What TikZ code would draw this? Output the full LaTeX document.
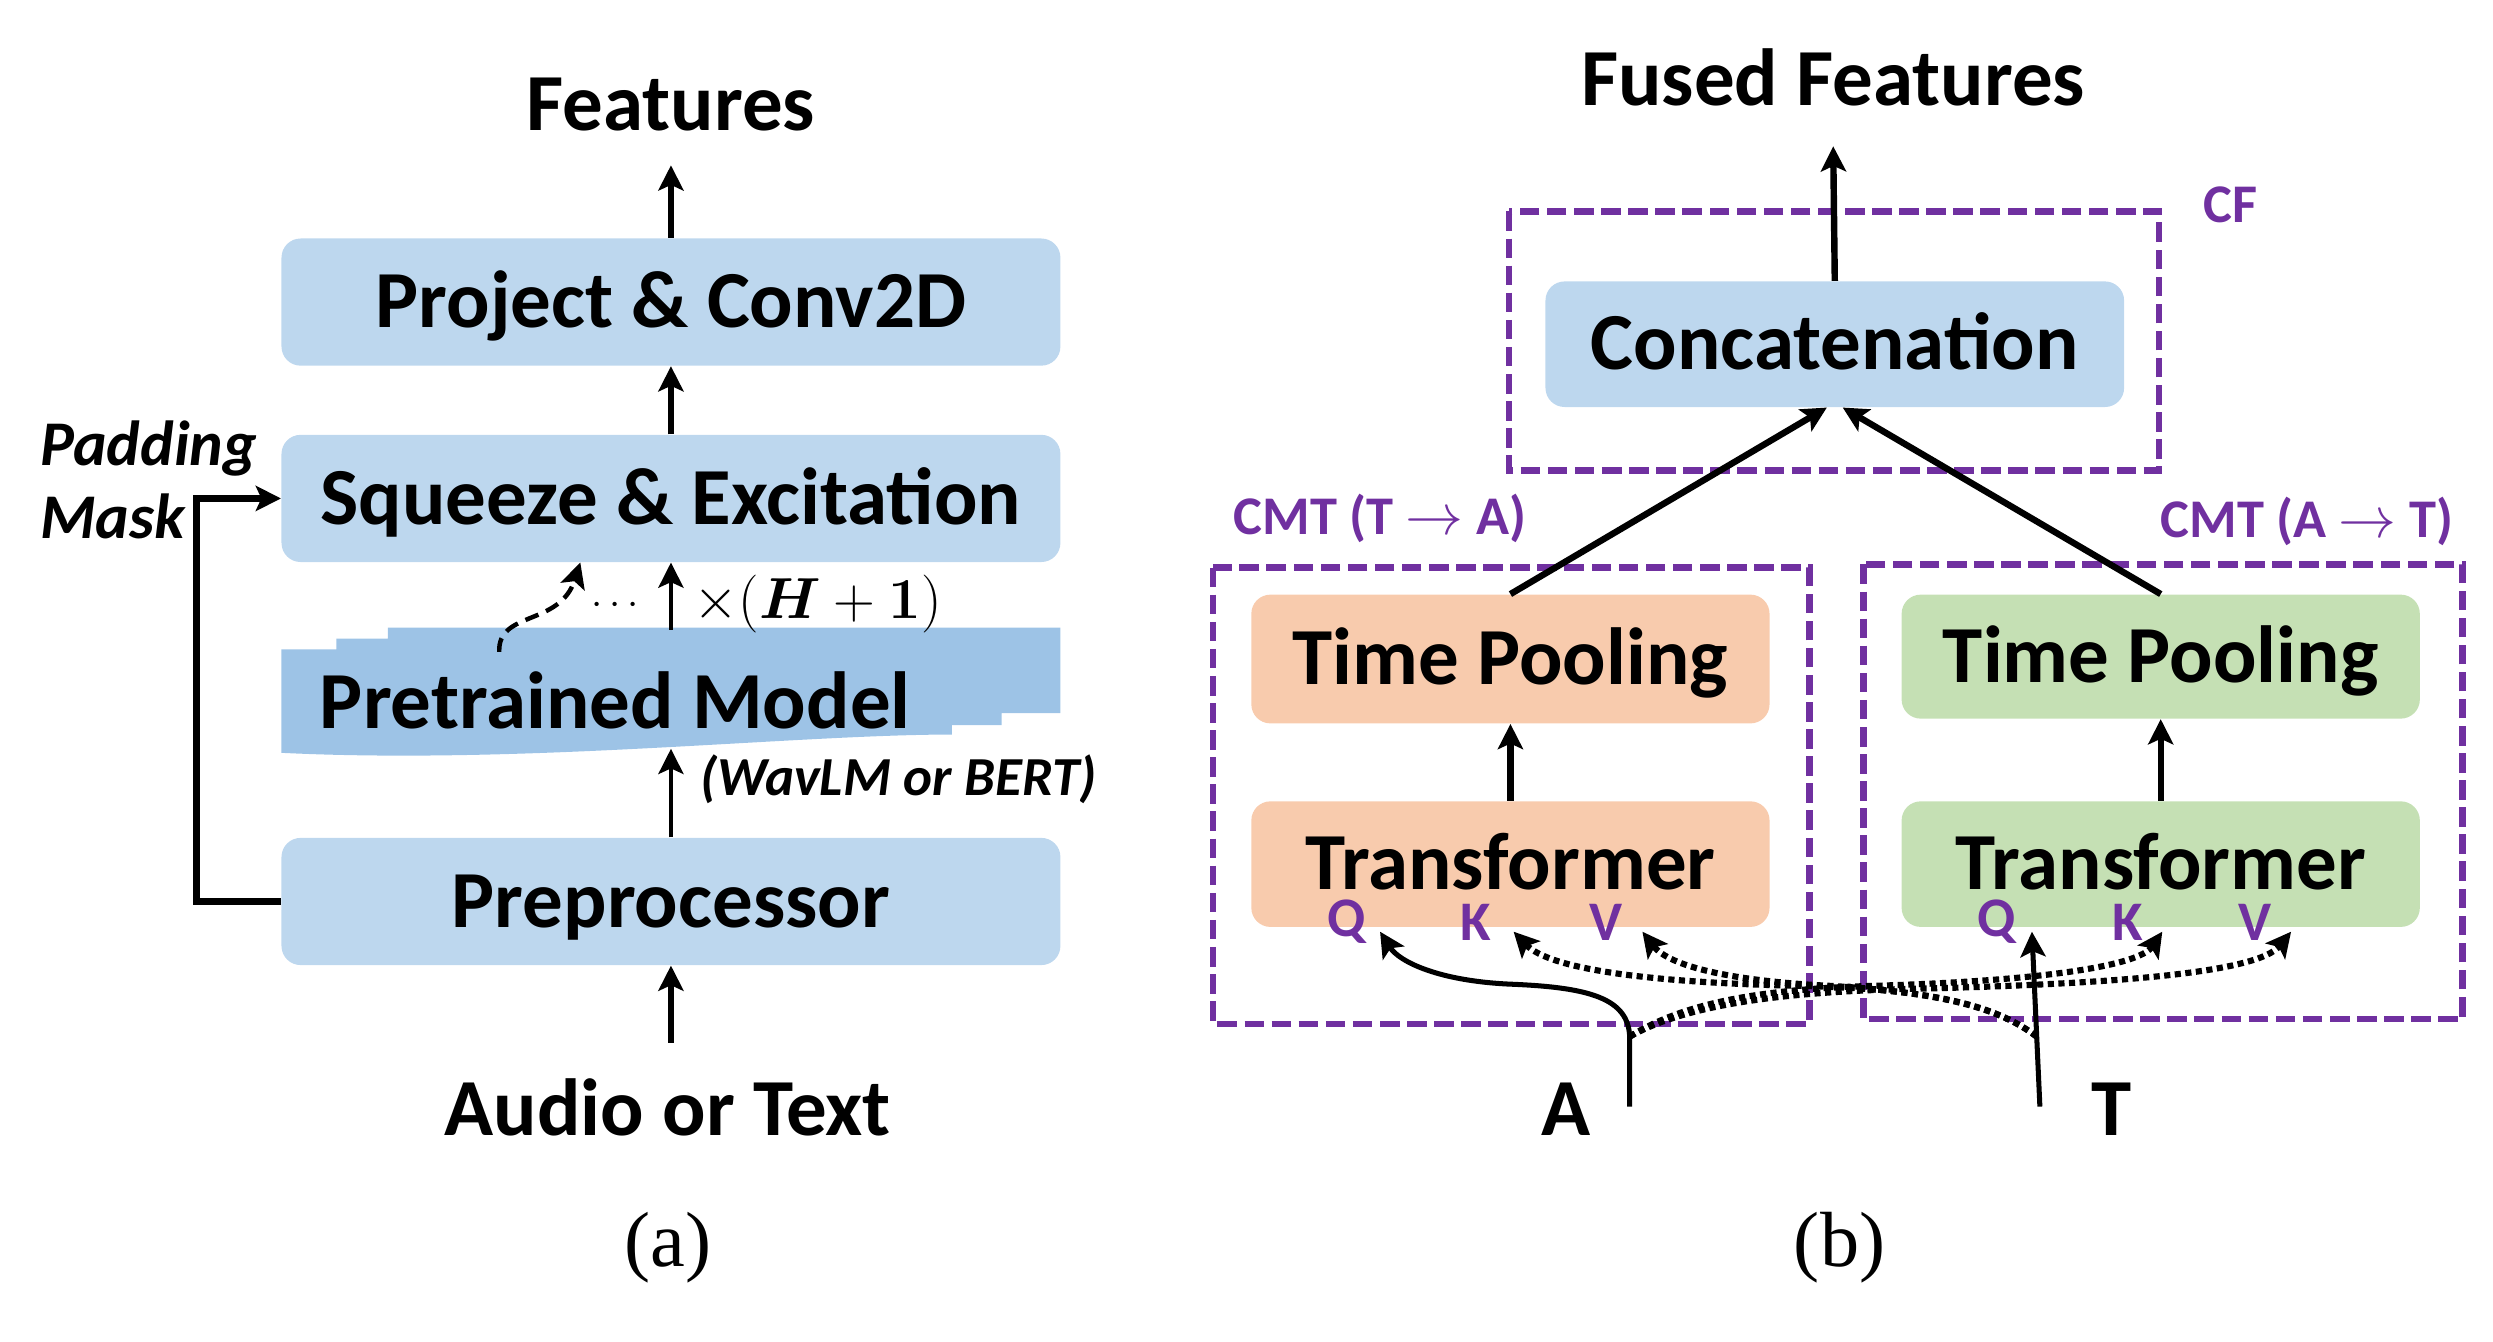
\documentclass[tikz,border=0pt]{standalone}
\usepackage{amsmath,bm}
\usepackage{fontspec}
\setmainfont{Carlito}
\newfontfamily\capfont{Liberation Serif}
\usetikzlibrary{arrows.meta}
\definecolor{lblue}{HTML}{BDD7EE}
\definecolor{mblue}{HTML}{9DC3E6}
\definecolor{lorange}{HTML}{F8CBAD}
\definecolor{lgreen}{HTML}{C5E0B4}
\definecolor{purp}{HTML}{7030A0}
\begin{document}
\begin{tikzpicture}[x=0.02cm,y=-0.02cm,
  lbl/.style={font=\fontsize{29}{34}\selectfont\bfseries, inner sep=0pt, text height=18.3pt, text depth=0pt},
  box/.style={lbl, rounded corners=0.24cm, minimum width=9.8cm, minimum height=1.6cm},
  sbox/.style={box, minimum width=6.52cm, minimum height=1.6cm},
  plbl/.style={font=\fontsize{19.5}{22}\selectfont\bfseries, text=purp, inner sep=0pt},
  qkv/.style={font=\fontsize{20}{22}\selectfont\bfseries, text=purp, inner sep=0pt},
  tip/.style={-{Stealth[length=9pt,width=9pt,inset=2pt]}},
  arr/.style={line width=1.4pt, tip},
  barr/.style={line width=2.3pt, tip},
  qarr/.style={line width=1.8pt, tip},
  dotl/.style={line width=2.2pt, dash pattern=on 2.2pt off 1.6pt, tip},
  cmtbox/.style={draw=purp, line width=2.4pt, dash pattern=on 7pt off 2.7pt},
  capt/.style={font=\capfont\fontsize{28}{32}\selectfont, inner sep=0pt}
]
\useasboundingbox (0,0) rectangle (1568,844);

% ---------------- panel (a) ----------------
\node[lbl] (feat) at (422,66) {Features};
\node[box, fill=lblue] (proj) at (422,190) {Project \& Conv2D};
\node[box, fill=lblue] (se) at (422,313.5) {Squeeze \& Excitation};
\node[box, fill=lblue] (pre) at (422,567) {Preprocessor};
\node[lbl] (audio) at (420,698) {Audio or Text};

% pretrained model (stacked documents)
\fill[mblue] (177,473.5) -- (177,408.4) -- (211.6,408.4) -- (211.6,401.6) -- (244,401.6) -- (244,394.7)
  -- (667,394.7) -- (667,448.5) -- (630,448.5) -- (630,456) -- (598.7,456) -- (598.7,462)
  .. controls (500,462) and (330,481) .. (177,473.5) -- cycle;
\node[lbl] (pm) at (387,442) {Pretrained Model};
\coordinate (pmTop) at (422,396);
\coordinate (pmBot) at (422,471);
\coordinate (pmDash) at (314,410);
\coordinate (featIn) at (422,104);
\coordinate (audioOut) at (422,656);

\draw[barr] (proj.north) -- (featIn);
\draw[barr] (se.north) -- (proj.south);
\draw[arr] (pmTop) -- (se.south);
\draw[arr] (pre.north) -- (pmBot);
\draw[barr] (audioOut) -- (pre.south);
\draw[barr] (pre.west) -- ++(-53,0) |- (se.west);
\draw[arr, line width=1.6pt, dash pattern=on 5pt off 3pt] (pmDash) .. controls (313,384) and (352,394) .. ([xshift=-1.14cm]se.south);

\node[font=\fontsize{14}{14}\selectfont, inner sep=0pt] (dots) at (389,381) {$\cdots$};
\node[font=\fontsize{20.5}{24}\selectfont, inner sep=0pt, anchor=west] (hlab) at (436,380) {$\times(\bm{H}+\bm{1})$};
\node[font=\fontsize{19.7}{22}\selectfont\bfseries\itshape, inner sep=0pt] (wav) at (565,490) {(WavLM or BERT)};
\node[font=\fontsize{22.8}{25}\selectfont\bfseries\itshape, inner sep=0pt, anchor=base west] (pad) at (25,293) {Padding};
\node[font=\fontsize{22.8}{25}\selectfont\bfseries\itshape, inner sep=0pt, anchor=base west] (mask) at (25,339) {Mask};

\node[capt] (capa) at (420,785) {(a)};

% ---------------- panel (b) ----------------
\node[lbl] (fused) at (1153,50) {Fused Features};
\draw[cmtbox] (949,133) rectangle (1358,296);
\node[plbl] (cf) at (1403,129) {CF};
\node[box, fill=lblue, minimum width=7.28cm, minimum height=1.58cm] (conc) at (1154,216.5) {Concatenation};
\coordinate (fusedIn) at (1153,92);
\draw[barr] (conc.north) -- (fusedIn);

\draw[cmtbox] (763,357) rectangle (1138,644);
\draw[cmtbox] (1172,355) rectangle (1549,641);
\node[plbl] (cmtL) at (868,326) {CMT (T $\rightarrow$ A)};
\node[plbl] (cmtR) at (1451,328) {CMT (A $\rightarrow$ T)};

\node[sbox, fill=lorange, minimum height=1.62cm] (tpL) at (950,414.5) {Time Pooling};
\node[sbox, fill=lorange, minimum height=1.58cm] (trL) at (950,543.5) {Transformer};
\node[sbox, fill=lgreen, minimum height=1.56cm] (tpR) at (1359,413) {Time Pooling};
\node[sbox, fill=lgreen, minimum height=1.58cm] (trR) at (1359,543.5) {Transformer};

\draw[barr] (trL.north) -- (tpL.south);
\draw[barr] (trR.north) -- (tpR.south);
\draw[barr] (tpL.north) -- ([xshift=-0.1cm]conc.south);
\draw[barr] (tpR.north) -- ([xshift=0.1cm]conc.south);

\node[qkv] (qL) at (847,580) {Q};
\node[qkv] (kL) at (928,580) {K};
\node[qkv] (vL) at (1010,580) {V};
\node[qkv] (qR) at (1256,580) {Q};
\node[qkv] (kR) at (1338,580) {K};
\node[qkv] (vR) at (1418,580) {V};

\node[lbl] (A) at (985,698) {A};
\node[lbl] (T) at (1328,698) {T};
\coordinate (aBot) at (1025,696);
\coordinate (aTop) at (1025,652);
\coordinate (tBot) at (1283,696);
\coordinate (tTop) at (1281,652);
\coordinate (qLin) at (868,586);
\coordinate (kLin) at (952,586);
\coordinate (vLin) at (1033,586);
\coordinate (qRin) at (1278,586);
\coordinate (kRin) at (1360,586);
\coordinate (vRin) at (1441,586);

\draw[qarr] (aBot) -- (aTop) .. controls (1024,628) and (1000,621) .. (950,619) .. controls (905,617) and (880,605) .. (qLin);
\draw[qarr] (tBot) -- (tTop) -- (qRin);
\draw[dotl] (aTop) .. controls (1060,630) and (1110,622) .. (1180,620) .. controls (1280,617) and (1345,608) .. (kRin);
\draw[dotl] (aTop) .. controls (1060,632) and (1120,624) .. (1200,622) .. controls (1330,619) and (1420,612) .. (vRin);
\draw[dotl] (tTop) .. controls (1255,632) and (1215,622) .. (1130,620) .. controls (1040,618) and (975,610) .. (kLin);
\draw[dotl] (tTop) .. controls (1258,634) and (1220,624) .. (1150,620) .. controls (1090,617) and (1050,608) .. (vLin);

\node[capt] (capb) at (1157,785) {(b)};
\end{tikzpicture}
\end{document}
